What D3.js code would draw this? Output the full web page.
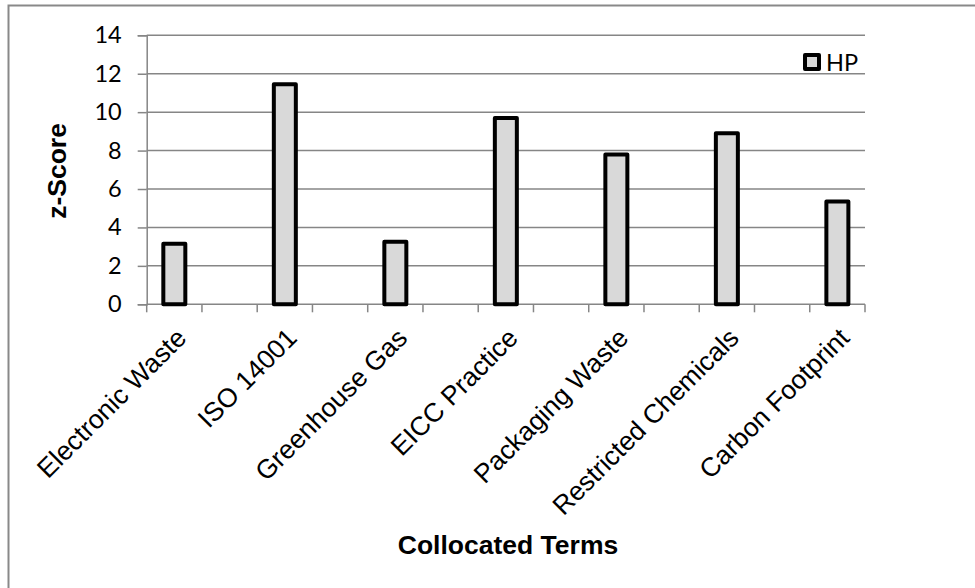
<!DOCTYPE html>
<html>
<head>
<meta charset="utf-8">
<script src="https://cdn.jsdelivr.net/npm/d3@7"></script>
<style>
  html, body { margin: 0; padding: 0; background: #fff; }
  svg { display: block; }
</style>
</head>
<body>
<svg id="chart" width="975" height="588"></svg>
<script>
// Collocated terms and their z-scores (series "HP")
const categories = ["Electronic Waste", "ISO 14001", "Greenhouse Gas", "EICC Practice",
                    "Packaging Waste", "Restricted Chemicals", "Carbon Footprint"];
const seriesName = "HP";
const hpValues = [3.15, 11.45, 3.25, 9.7, 7.8, 8.9, 5.35];
const yTicks = [0, 2, 4, 6, 8, 10, 12, 14];

const svg = d3.select("#chart");
const W = 975, H = 588;
const plot = { left: 146.7, right: 865, top: 35.3, bottom: 304.3 };
const gridColor = "#868686";
const arial = "'Liberation Sans', Arial, sans-serif";
const sans = "Lato, 'Open Sans', sans-serif";
const labelSize = 26.5;

// Outer frame (left and top edges)
svg.append("path")
  .attr("d", `M8.5,${H} V5.5 H${W}`)
  .attr("fill", "none").attr("stroke", "#898989").attr("stroke-width", 2);

// Each term sits in its own slot with an empty slot between neighbours
const slots = d3.range(categories.length * 2 - 1);
const x = d3.scaleBand().domain(slots).range([plot.left, plot.right]).padding(0);
const slotOf = i => i * 2;
const y = d3.scaleLinear().domain([0, 14]).range([plot.bottom, plot.top]);

// Horizontal gridlines
svg.append("g").selectAll("line").data(yTicks.filter(d => d > 0)).join("line")
  .attr("x1", plot.left).attr("x2", plot.right)
  .attr("y1", d => y(d)).attr("y2", d => y(d))
  .attr("stroke", gridColor).attr("stroke-width", 1.5);

// Y axis
const yAxis = svg.append("g").attr("transform", `translate(${plot.left},0)`)
  .call(d3.axisLeft(y).tickValues(yTicks).tickSize(9).tickPadding(16));
yAxis.select(".domain").attr("stroke", gridColor).attr("stroke-width", 1.5);
yAxis.selectAll(".tick line").attr("stroke", gridColor).attr("stroke-width", 1.5);
yAxis.selectAll(".tick text")
  .attr("font-family", sans).attr("font-size", 23.5).attr("fill", "#000");

// X axis baseline with a tick at every slot boundary
const boundaries = slots.map(s => x(s)).concat([plot.right]);
svg.append("line")
  .attr("x1", plot.left).attr("x2", plot.right)
  .attr("y1", plot.bottom).attr("y2", plot.bottom)
  .attr("stroke", gridColor).attr("stroke-width", 1.5);
svg.append("g").selectAll("line").data(boundaries).join("line")
  .attr("x1", d => d).attr("x2", d => d)
  .attr("y1", plot.bottom).attr("y2", plot.bottom + 8)
  .attr("stroke", gridColor).attr("stroke-width", 1.5);

// Bars
const barW = 22;
svg.append("g").selectAll("rect").data(hpValues).join("rect")
  .attr("x", (d, i) => x(slotOf(i)) + x.bandwidth() / 2 - barW / 2)
  .attr("width", barW)
  .attr("y", d => y(d))
  .attr("height", d => y(0) - y(d))
  .attr("fill", "#d9d9d9")
  .attr("stroke", "#000").attr("stroke-width", 4)
  .attr("stroke-linejoin", "round");

// Category labels, rotated
svg.append("g").selectAll("text").data(categories).join("text")
  .attr("transform", (d, i) =>
    `translate(${x(slotOf(i)) + x.bandwidth() / 2 + 7},333) rotate(-45)`)
  .attr("text-anchor", "end").attr("dy", "0.35em")
  .attr("font-family", arial).attr("font-size", labelSize).attr("fill", "#000")
  .text(d => d);

// Axis titles
svg.append("text")
  .attr("transform", "translate(66,171) rotate(-90)")
  .attr("text-anchor", "middle")
  .attr("font-family", arial).attr("font-size", labelSize).attr("font-weight", "bold")
  .text("z-Score");
svg.append("text")
  .attr("x", 508).attr("y", 554)
  .attr("text-anchor", "middle")
  .attr("font-family", arial).attr("font-size", labelSize).attr("font-weight", "bold")
  .text("Collocated Terms");

// Legend
const legend = svg.append("g").attr("transform", "translate(805,55)");
legend.append("rect").attr("width", 14).attr("height", 14)
  .attr("fill", "#d9d9d9").attr("stroke", "#000").attr("stroke-width", 4)
  .attr("stroke-linejoin", "round");
legend.append("text").attr("x", 21).attr("y", 15.5)
  .attr("font-family", sans).attr("font-size", 23.5).attr("fill", "#000")
  .text(seriesName);
</script>
</body>
</html>
